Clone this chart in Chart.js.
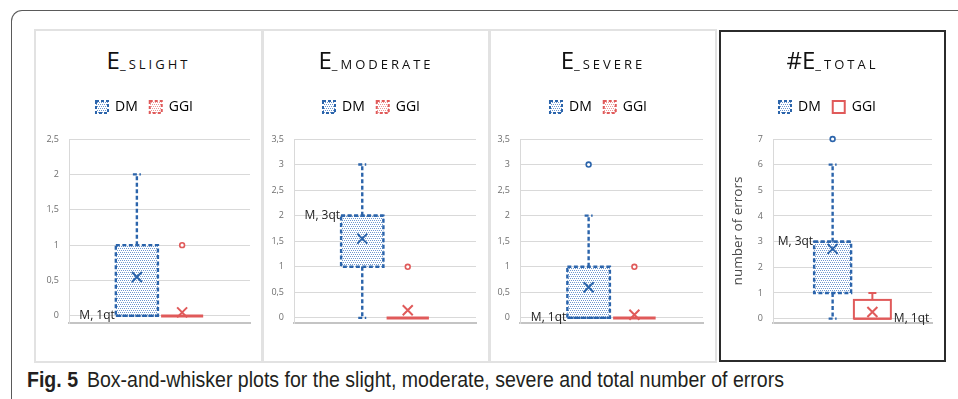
<!DOCTYPE html>
<html>
<head>
<meta charset="utf-8">
<script src="https://cdn.jsdelivr.net/npm/chart.js@4"></script>
<style>
body{margin:0;width:958px;height:399px;background:#fff;position:relative;overflow:hidden;font-family:'Open Sans',sans-serif}
#frame{position:absolute;left:11px;top:10px;width:990px;height:420px;border-left:1.5px solid #5a5a5a;border-top:1.5px solid #5a5a5a;border-top-left-radius:11px}
.panel{position:absolute;top:29px;height:334px;border:2px solid #e2e2e2;box-sizing:border-box}
.panel.dark{top:30px;height:332px;border:2px solid #2b2b2b}
.ttl{position:absolute;top:44px;text-align:center;font-size:24px;line-height:32px;color:#111;white-space:nowrap}
.ttl .sc{font-size:13px;letter-spacing:3px}
canvas{position:absolute;top:88px}
#caption{position:absolute;left:27px;top:369px;font-family:'Liberation Sans Narrow','Liberation Sans',sans-serif;font-size:22px;line-height:22px;color:#231f20;white-space:nowrap;transform-origin:left top}
#caption b{margin-right:10px}
</style>
</head>
<body>
<div id="frame"></div>
<div id="caption"><b>Fig. 5</b>Box-and-whisker plots for the slight, moderate, severe and total number of errors</div>

<script>
// titles of the four plots: big part + small-caps part
const titleBig = ['E', 'E', 'E', '#E'];
const titleSmall = ['_SLIGHT', '_MODERATE', '_SEVERE', '_TOTAL'];
const seriesNames = ['DM', 'GGI'];

// y axis ticks per plot
const yTicks = [
    [0, 0.5, 1, 1.5, 2, 2.5],
    [0, 0.5, 1, 1.5, 2, 2.5, 3, 3.5],
    [0, 0.5, 1, 1.5, 2, 2.5, 3, 3.5],
    [0, 1, 2, 3, 4, 5, 6, 7]
];
const yMins = [-0.1, -0.1, -0.1, -0.17];
const yTitles = ['', '', '', 'number of errors'];

// DM five number summary per plot
const dmMin    = [0, 0, 0, 0];
const dmQ1     = [0, 1, 0, 1];
const dmMedian = [0, 2, 0, 3];
const dmQ3     = [1, 2, 1, 3];
const dmMax    = [2, 3, 2, 6];
const dmMean   = [0.55, 1.55, 0.6, 2.72];
const dmOutliers = [[], [], [3], [7]];
const dmLabels = ['M, 1qt', 'M, 3qt', 'M, 1qt', 'M, 3qt'];

// GGI five number summary per plot
const ggiMin    = [0, 0, 0, 0];
const ggiQ1     = [0, 0, 0, 0];
const ggiMedian = [0, 0, 0, 0];
const ggiQ3     = [0, 0, 0, 0.73];
const ggiMax    = [0, 0, 0, 1];
const ggiMean   = [0.05, 0.15, 0.06, 0.26];
const ggiOutliers = [[1], [1], [1], []];
const ggiLabels = ['', '', '', 'M, 1qt'];

const blue = '#2b64ab';
const red = '#e05a5a';

// panel boxes on the page
const panels = [
    {left: 34, width: 229, plotLeft: 35, plotRight: 13, axisW: 30},
    {left: 262, width: 228, plotLeft: 32, plotRight: 14, axisW: 27},
    {left: 489, width: 228, plotLeft: 31, plotRight: 14, axisW: 26},
    {left: 719, width: 227, plotLeft: 54, plotRight: 14, axisW: 50}
];

function makePattern(color) {
    const c = document.createElement('canvas');
    c.width = 4; c.height = 4;
    const g = c.getContext('2d');
    g.fillStyle = '#ffffff';
    g.fillRect(0, 0, 4, 4);
    g.fillStyle = color;
    g.fillRect(0, 0, 1, 1);
    g.fillRect(2, 0, 1, 1);
    g.fillRect(1, 2, 1, 1);
    g.fillRect(3, 2, 1, 1);
    return g.createPattern(c, 'repeat');
}
const bluePattern = makePattern('#6f98cf');
const redPattern = makePattern('#ec9a9a');

// add room under the legend
const legendGap = {
    id: 'legendGap',
    beforeInit(chart) {
        const fit = chart.legend.fit;
        chart.legend.fit = function () {
            fit.call(this);
            this.height += 15;
        };
    }
};

// draws borders, whiskers, means, outliers and labels of each box
const boxWhisker = {
    id: 'boxWhisker',
    afterDatasetsDraw(chart) {
        const ctx = chart.ctx;
        const ys = chart.scales.y;
        const py = v => ys.getPixelForValue(v);
        chart.data.datasets.forEach((ds, d) => {
            const bar = chart.getDatasetMeta(d).data[0];
            const s = ds.stats;
            const cx = bar.x, hw = bar.width / 2;
            ctx.save();
            ctx.strokeStyle = s.color;
            ctx.lineWidth = s.lineWidth;
            ctx.setLineDash(s.dash);
            // whiskers
            ctx.beginPath();
            if (s.max > s.q3) {
                ctx.moveTo(cx, py(s.q3)); ctx.lineTo(cx, py(s.max));
                ctx.moveTo(cx - 4, py(s.max)); ctx.lineTo(cx + 4, py(s.max));
            }
            if (s.min < s.q1) {
                ctx.moveTo(cx, py(s.q1)); ctx.lineTo(cx, py(s.min));
                ctx.moveTo(cx - 4, py(s.min)); ctx.lineTo(cx + 4, py(s.min));
            }
            ctx.stroke();
            // box
            if (s.q3 > s.q1) {
                ctx.strokeRect(cx - hw, py(s.q3), hw * 2, py(s.q1) - py(s.q3));
                ctx.beginPath();
                ctx.moveTo(cx - hw, py(s.median)); ctx.lineTo(cx + hw, py(s.median));
                ctx.stroke();
            } else {
                ctx.setLineDash([]);
                ctx.lineWidth = 3;
                ctx.beginPath();
                ctx.moveTo(cx - hw, py(s.q1)); ctx.lineTo(cx + hw, py(s.q1));
                ctx.stroke();
            }
            // mean
            ctx.setLineDash([]);
            ctx.lineWidth = 2;
            const my = py(s.mean);
            ctx.beginPath();
            ctx.moveTo(cx - 5, my - 5); ctx.lineTo(cx + 5, my + 5);
            ctx.moveTo(cx + 5, my - 5); ctx.lineTo(cx - 5, my + 5);
            ctx.stroke();
            // outliers
            ctx.lineWidth = 1.6;
            s.outliers.forEach(v => {
                ctx.beginPath();
                ctx.arc(cx, py(v), 2.4, 0, Math.PI * 2);
                ctx.fillStyle = '#fff';
                ctx.fill();
                ctx.stroke();
            });
            // median label
            if (s.label) {
                ctx.font = '12px "Open Sans"';
                ctx.fillStyle = '#1e1e1e';
                ctx.textBaseline = 'middle';
                if (s.labelSide === 'left') {
                    ctx.textAlign = 'right';
                    ctx.fillText(s.label, cx - hw - 1, py(s.median));
                } else {
                    ctx.textAlign = 'left';
                    ctx.fillText(s.label, cx + hw + 3, py(s.median));
                }
            }
            ctx.restore();
        });
    }
};

panels.forEach((p, i) => {
    const box = document.createElement('div');
    box.className = i === 3 ? 'panel dark' : 'panel';
    box.style.left = p.left + 'px';
    box.style.width = p.width + 'px';
    document.body.appendChild(box);

    const ttl = document.createElement('div');
    ttl.className = 'ttl';
    ttl.style.left = p.left + 'px';
    ttl.style.width = p.width + 'px';
    ttl.innerHTML = titleBig[i] + '<span class="sc">' + titleSmall[i] + '</span>';
    document.body.appendChild(ttl);

    const canvas = document.createElement('canvas');
    canvas.width = p.width;
    canvas.height = 274;
    canvas.style.left = p.left + 'px';
    document.body.appendChild(canvas);

    const ggiFill = i === 3 ? '#ffffff' : redPattern;

    new Chart(canvas.getContext('2d'), {
        type: 'bar',
        data: {
            labels: [''],
            datasets: [
                {
                    label: seriesNames[0],
                    data: [[dmQ1[i], dmQ3[i]]],
                    backgroundColor: bluePattern,
                    borderWidth: 0,
                    stats: {
                        min: dmMin[i], q1: dmQ1[i], median: dmMedian[i], q3: dmQ3[i], max: dmMax[i],
                        mean: dmMean[i], outliers: dmOutliers[i], label: dmLabels[i], labelSide: 'left',
                        color: blue, lineWidth: 2.4, dash: [4, 2.5]
                    }
                },
                {
                    label: seriesNames[1],
                    data: [[ggiQ1[i], ggiQ3[i]]],
                    backgroundColor: ggiFill,
                    borderWidth: 0,
                    stats: {
                        min: ggiMin[i], q1: ggiQ1[i], median: ggiMedian[i], q3: ggiQ3[i], max: ggiMax[i],
                        mean: ggiMean[i], outliers: ggiOutliers[i], label: ggiLabels[i], labelSide: 'right',
                        color: red, lineWidth: 2, dash: []
                    }
                }
            ]
        },
        options: {
            responsive: false,
            animation: false,
            devicePixelRatio: 1,
            layout: {padding: {left: p.plotLeft - p.axisW, right: p.plotRight, top: 0, bottom: 39}},
            datasets: {bar: {categoryPercentage: 0.5, barPercentage: 0.93}},
            plugins: {
                tooltip: {enabled: false},
                legend: {
                    position: 'top',
                    labels: {
                        boxWidth: 12,
                        boxHeight: 12,
                        padding: 12,
                        color: '#595959',
                        font: {size: 14, family: 'Open Sans'},
                        generateLabels: () => [
                            {text: seriesNames[0], fillStyle: bluePattern, strokeStyle: blue, lineWidth: 2, lineDash: [3, 2], datasetIndex: 0},
                            {text: seriesNames[1], fillStyle: ggiFill, strokeStyle: red, lineWidth: 2, lineDash: i === 3 ? [] : [3, 2], datasetIndex: 1}
                        ]
                    }
                }
            },
            scales: {
                x: {
                    offset: true,
                    grid: {display: false, drawTicks: false},
                    ticks: {display: false},
                    border: {display: true, color: '#c4c4c4', width: 2}
                },
                y: {
                    min: yMins[i],
                    max: yTicks[i][yTicks[i].length - 1],
                    afterBuildTicks: scale => {
                        scale.ticks = yTicks[i].map(v => ({value: v}));
                    },
                    afterFit: scale => {
                        scale.width = p.axisW;
                    },
                    grid: {color: '#d9d9d9', lineWidth: 1, drawTicks: false},
                    border: {display: true, color: '#d9d9d9', width: 1},
                    ticks: {
                        padding: 10,
                        color: '#6e6e6e',
                        font: {size: 9, family: 'Open Sans'},
                        callback: v => String(v).replace('.', ',')
                    },
                    title: {
                        display: yTitles[i] !== '',
                        text: yTitles[i],
                        color: '#4a4a4a',
                        font: {size: 13.5, family: 'Open Sans'},
                        padding: {top: 7, bottom: 0}
                    }
                }
            }
        },
        plugins: [legendGap, boxWhisker]
    });
});

// stretch caption to the width it has in the figure
const cap = document.getElementById('caption');
cap.style.transform = 'scaleX(' + (757 / cap.getBoundingClientRect().width) + ')';
</script>
</body>
</html>
